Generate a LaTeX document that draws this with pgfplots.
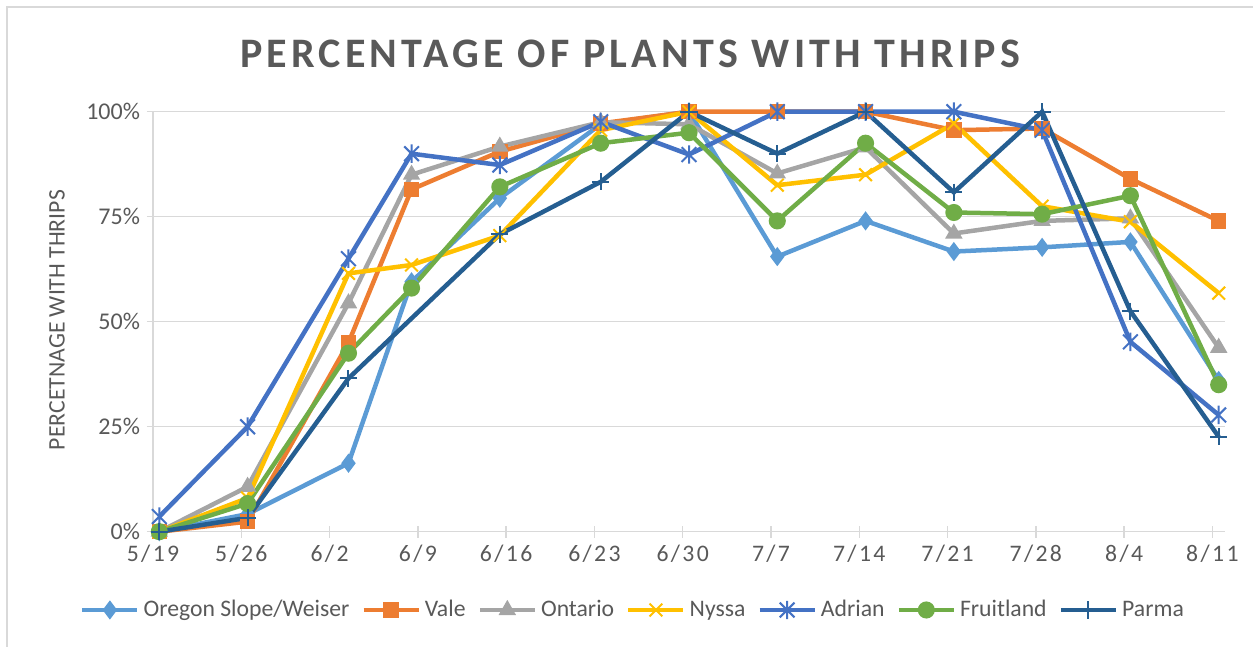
\documentclass[border=0pt]{standalone}
\usepackage{fontspec}
\setmainfont{Carlito}
\newfontfamily\titlefont{Carlito}[LetterSpace=10]
\newfontfamily\xtfont{Carlito}[LetterSpace=10]
\usepackage{pgfplots}
\usepackage{pgfplotstable}
\pgfplotsset{compat=1.18}
\definecolor{cOre}{HTML}{5B9BD5}
\definecolor{cVal}{HTML}{ED7D31}
\definecolor{cOnt}{HTML}{A5A5A5}
\definecolor{cNys}{HTML}{FFC000}
\definecolor{cAdr}{HTML}{4472C4}
\definecolor{cFru}{HTML}{70AD47}
\definecolor{cPar}{HTML}{255E91}
\definecolor{gridgray}{HTML}{D9D9D9}
\definecolor{txtgray}{HTML}{595959}

\pgfdeclareplotmark{xstar}{%
  \pgfpathmoveto{\pgfqpoint{-0.8\pgfplotmarksize}{-0.8\pgfplotmarksize}}%
  \pgfpathlineto{\pgfqpoint{0.8\pgfplotmarksize}{0.8\pgfplotmarksize}}%
  \pgfpathmoveto{\pgfqpoint{-0.8\pgfplotmarksize}{0.8\pgfplotmarksize}}%
  \pgfpathlineto{\pgfqpoint{0.8\pgfplotmarksize}{-0.8\pgfplotmarksize}}%
  \pgfpathmoveto{\pgfqpoint{0pt}{-\pgfplotmarksize}}%
  \pgfpathlineto{\pgfqpoint{0pt}{\pgfplotmarksize}}%
  \pgfusepathqstroke}

\pgfplotstableread{
day   ore   val   ont   nys   adr   fru   par
0.5   0     0     0     0     3.6   0     0
7.5   4.2   2.4   10.7  8.0   25.0  6.7   3.3
15.5  16.3  45.0  54.4  61.5  65.0  42.5  36.5
20.5  59.5  81.5  85.0  63.5  90.0  58.0  nan
27.5  79.4  90.5  91.7  70.5  87.3  82.1  70.8
35.5  97.0  97.2  97.5  95.6  97.6  92.5  83.3
42.5  100   100   97.0  100   89.8  95.0  100
49.5  65.5  100   85.3  82.5  100   74.0  90.0
56.5  74.0  100   91.5  85.0  100   92.5  100
63.5  66.7  95.6  71.0  97.2  100   76.0  80.8
70.5  67.7  96.0  74.0  77.5  95.6  75.6  100
77.5  69.0  84.0  74.6  73.8  45.2  80.0  52.5
84.5  36.0  74.0  43.8  56.8  27.8  35.0  22.6
}\datatable

\begin{document}
\begin{tikzpicture}
\useasboundingbox (0,0) rectangle (626.5pt,323.5pt);
\draw[gridgray, line width=0.75pt] (3.4pt,-2pt) -- (3.4pt,320pt) -- (630pt,320pt);
\node[font=\titlefont\bfseries\fontsize{21pt}{25pt}\selectfont, text=txtgray] at (315pt,296.5pt) {PERCENTAGE OF PLANTS WITH THRIPS};
\begin{axis}[
  at={(76.5pt,57.65pt)}, anchor=south west,
  scale only axis, width=536pt, height=210pt,
  xmin=0, xmax=85, ymin=0, ymax=100,
  xtick={0,7,...,84},
  xticklabels={5/19,5/26,6/2,6/9,6/16,6/23,6/30,7/7,7/14,7/21,7/28,8/4,8/11},
  ytick={0,25,50,75,100},
  yticklabels={0\%,25\%,50\%,75\%,100\%},
  ymajorgrids,
  grid style={draw=gridgray, line width=0.75pt},
  axis x line*=bottom, axis y line*=left,
  axis line style={-, draw=gridgray, line width=0.75pt},
  major tick length=6pt, tick align=center,
  tick style={draw=gridgray, line width=0.75pt},
  /pgf/number format/assume math mode=true,
  yticklabel style={font=\fontsize{12pt}{14pt}\selectfont, text=txtgray},
  xticklabel style={font=\xtfont\fontsize{11.85pt}{14pt}\selectfont, text=txtgray},
  ylabel={PERCETNAGE WITH THRIPS},
  ylabel style={at={(axis description cs:-0.0896,0.504)}, anchor=center, font=\fontsize{11.85pt}{14pt}\selectfont, text=txtgray},
  legend columns=7,
  legend style={at={(axis description cs:0.4487,-0.1864)}, anchor=center, draw=none, fill=none,
    font=\fontsize{11.85pt}{14pt}\selectfont, text=txtgray,
    /tikz/every even column/.append style={column sep=4pt}},
  legend image code/.code={\draw[mark repeat=2,mark phase=2,#1] plot coordinates {(0pt,0pt) (13.75pt,0pt) (27.5pt,0pt)};},
  every axis plot/.append style={line width=2.25pt},
  clip=false,
]
\addplot[cOre, mark=diamond*, mark size=4.2pt, mark options={solid, fill=cOre, line width=0.75pt}] table[x=day, y=ore] {\datatable};
\addlegendentry{Oregon Slope/Weiser}
\addplot[cVal, mark=square*, mark size=3.5pt, mark options={solid, fill=cVal, line width=0.75pt}] table[x=day, y=val] {\datatable};
\addlegendentry{Vale}
\addplot[cOnt, mark=triangle*, mark size=4.3pt, mark options={solid, fill=cOnt, line width=0.75pt}] table[x=day, y=ont] {\datatable};
\addlegendentry{Ontario}
\addplot[cNys, mark=x, mark size=4.5pt, mark options={solid, line width=1pt}] table[x=day, y=nys] {\datatable};
\addlegendentry{Nyssa}
\addplot[cAdr, mark=xstar, mark size=4.6pt, mark options={solid, line width=1pt}] table[x=day, y=adr] {\datatable};
\addlegendentry{Adrian}
\addplot[cFru, mark=*, mark size=3.9pt, mark options={solid, fill=cFru, line width=0.75pt}] table[x=day, y=fru] {\datatable};
\addlegendentry{Fruitland}
\addplot[cPar, mark=+, mark size=4.3pt, mark options={solid, line width=1pt}] table[x=day, y=par] {\datatable};
\addlegendentry{Parma}
\end{axis}
\end{tikzpicture}
\end{document}
